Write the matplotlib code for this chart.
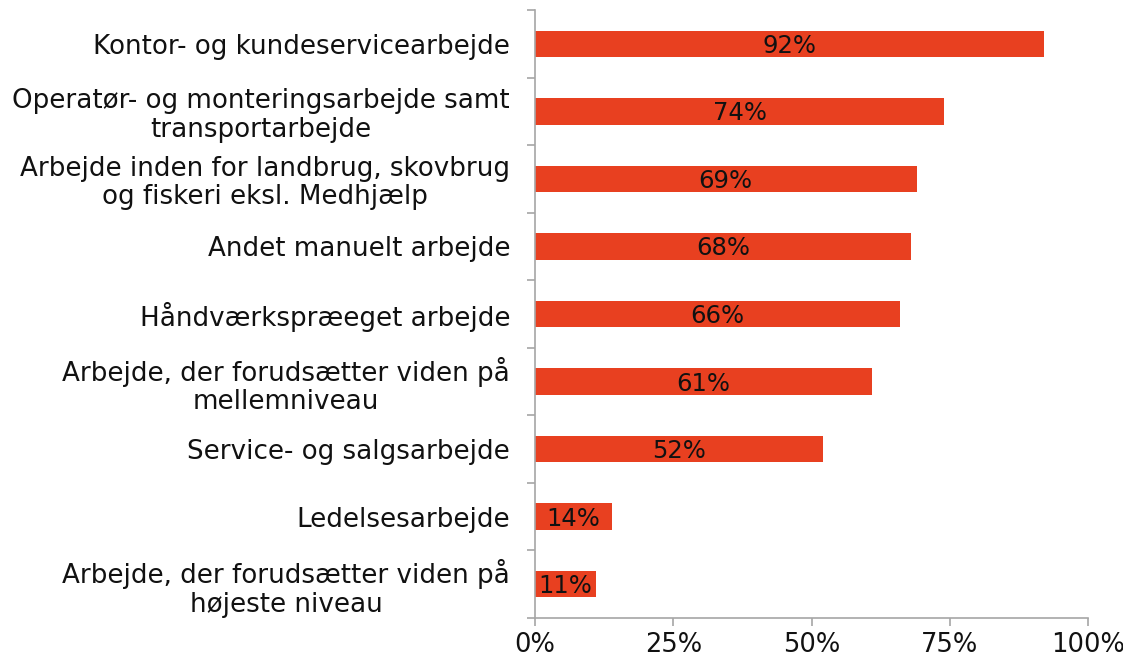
import matplotlib
matplotlib.use("Agg")
import matplotlib.pyplot as plt
import numpy as np

categories = [
    "Kontor- og kundeservicearbejde",
    "Operatør- og monteringsarbejde samt\ntransportarbejde",
    "Arbejde inden for landbrug, skovbrug\nog fiskeri eksl. Medhjælp",
    "Andet manuelt arbejde",
    "Håndværkspræeget arbejde",
    "Arbejde, der forudsætter viden på\nmellemniveau",
    "Service- og salgsarbejde",
    "Ledelsesarbejde",
    "Arbejde, der forudsætter viden på\nhøjeste niveau",
]
values = [92, 74, 69, 68, 66, 61, 52, 14, 11]
xticks = [0, 25, 50, 75, 100]
xticklabels = ["0%", "25%", "50%", "75%", "100%"]

plt.rcParams['font.family'] = ['DejaVu Sans']
fig = plt.figure(figsize=(11.23, 6.64), dpi=100)
ax = fig.add_axes([535/1123, 1-618/664, (1088-535)/1123, (618-10)/664])

y = np.arange(len(categories))
color = "#E84020"
ax.barh(y, values, height=0.39, color=color)
for yi, v in zip(y, values):
    ax.text(v/2, yi + 0.03, f"{v}%", ha="center", va="center", fontsize=17.5, color="#111111")

ax.set_ylim(len(categories)-0.5, -0.5)
ax.set_xlim(0, 100)
ax.set_yticks(y)
ax.set_yticklabels(categories, fontsize=18.8, color="#111111", linespacing=1.12)
for lab in ax.get_yticklabels():
    lab.set_multialignment("center")
ax.set_yticks(np.arange(-0.5, len(categories)), minor=True)
ax.tick_params(axis="y", which="major", length=0, pad=18)
ax.tick_params(axis="y", which="minor", length=6, color="#A6A6A6", width=1.2)
ax.set_xticks(xticks)
ax.set_xticklabels(xticklabels, fontsize=18.5, color="#111111")
ax.tick_params(axis="x", length=6, color="#A6A6A6", width=1.2, pad=4)

for s in ["top", "right"]:
    ax.spines[s].set_visible(False)
for s in ["left", "bottom"]:
    ax.spines[s].set_color("#A6A6A6")
    ax.spines[s].set_linewidth(1.2)

fig.savefig("out.png", dpi=100)
